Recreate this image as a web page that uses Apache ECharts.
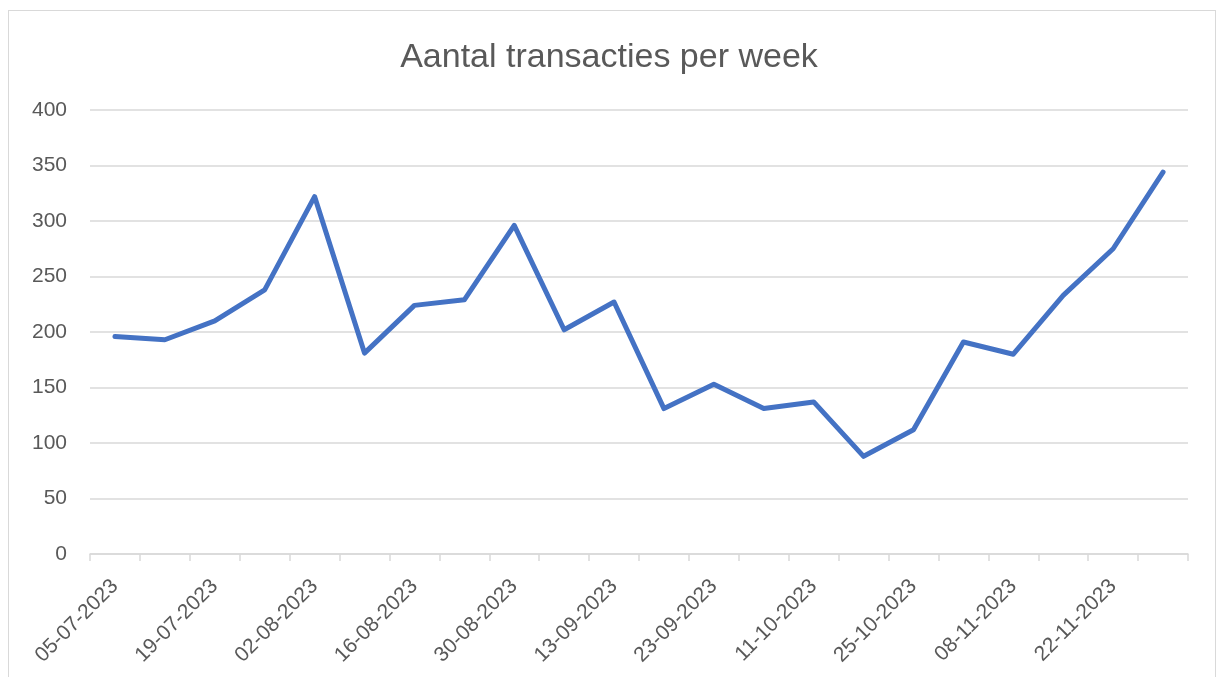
<!DOCTYPE html>
<html>
<head>
<meta charset="utf-8">
<script src="https://cdn.jsdelivr.net/npm/echarts@6/dist/echarts.min.js"></script>
<style>
    html, body { margin: 0; padding: 0; background: #fff; }
    .frame {
        position: absolute;
        left: 8px;
        top: 10px;
        width: 1208px;
        height: 700px;
        border: 1px solid #d9d9d9;
        box-sizing: border-box;
    }
    #myChart { position: absolute; left: 0; top: 0; width: 1218px; height: 677px; }
</style>
</head>
<body>
<div class="frame"></div>
<div id="myChart"></div>
<script>
// weken (labels staan op elke tweede week)
var weken = [
    '05-07-2023', '12-07-2023', '19-07-2023', '26-07-2023', '02-08-2023', '09-08-2023',
    '16-08-2023', '23-08-2023', '30-08-2023', '06-09-2023', '13-09-2023', '20-09-2023',
    '23-09-2023', '04-10-2023', '11-10-2023', '18-10-2023', '25-10-2023', '01-11-2023',
    '08-11-2023', '15-11-2023', '22-11-2023', '29-11-2023'
]
var transacties = [
    196, 193, 210, 238, 322, 181, 224, 229, 296, 202, 227, 131,
    153, 131, 137, 88, 112, 191, 180, 233, 275, 344
]
var yTicks = [0, 50, 100, 150, 200, 250, 300, 350, 400]

var textColor = '#595959'
var gridColor = '#d9d9d9'
var fontFamily = '"Liberation Sans", Arial, sans-serif'

var myChart = echarts.init(document.getElementById('myChart'))
myChart.setOption({
    animation: false,
    title: {
        text: 'Aantal transacties per week',
        left: 'center',
        top: 36,
        textStyle: {
            color: textColor,
            fontSize: 34,
            fontWeight: 'normal',
            fontFamily: fontFamily
        }
    },
    grid: {
        left: 90,
        right: 30,
        top: 110,
        bottom: 123
    },
    xAxis: {
        type: 'category',
        boundaryGap: true,
        data: weken,
        axisLine: { lineStyle: { color: gridColor, width: 1.5 } },
        axisTick: {
            show: true,
            interval: 0,
            length: 7,
            lineStyle: { color: gridColor, width: 1.5 }
        },
        axisLabel: {
            interval: 1,
            rotate: 45,
            margin: 29,
            color: textColor,
            fontSize: 21,
            fontFamily: fontFamily
        },
        splitLine: { show: false }
    },
    yAxis: {
        type: 'value',
        min: yTicks[0],
        max: yTicks[yTicks.length - 1],
        interval: yTicks[1] - yTicks[0],
        axisLine: { show: false },
        axisTick: { show: false },
        axisLabel: {
            margin: 23,
            color: textColor,
            fontSize: 21,
            fontFamily: fontFamily
        },
        splitLine: { lineStyle: { color: gridColor, width: 1.5 } }
    },
    series: [
        {
            name: 'Transacties',
            type: 'line',
            data: transacties,
            symbol: 'none',
            lineStyle: {
                color: '#4472c4',
                width: 5,
                cap: 'round',
                join: 'round'
            }
        }
    ]
})
</script>
</body>
</html>
